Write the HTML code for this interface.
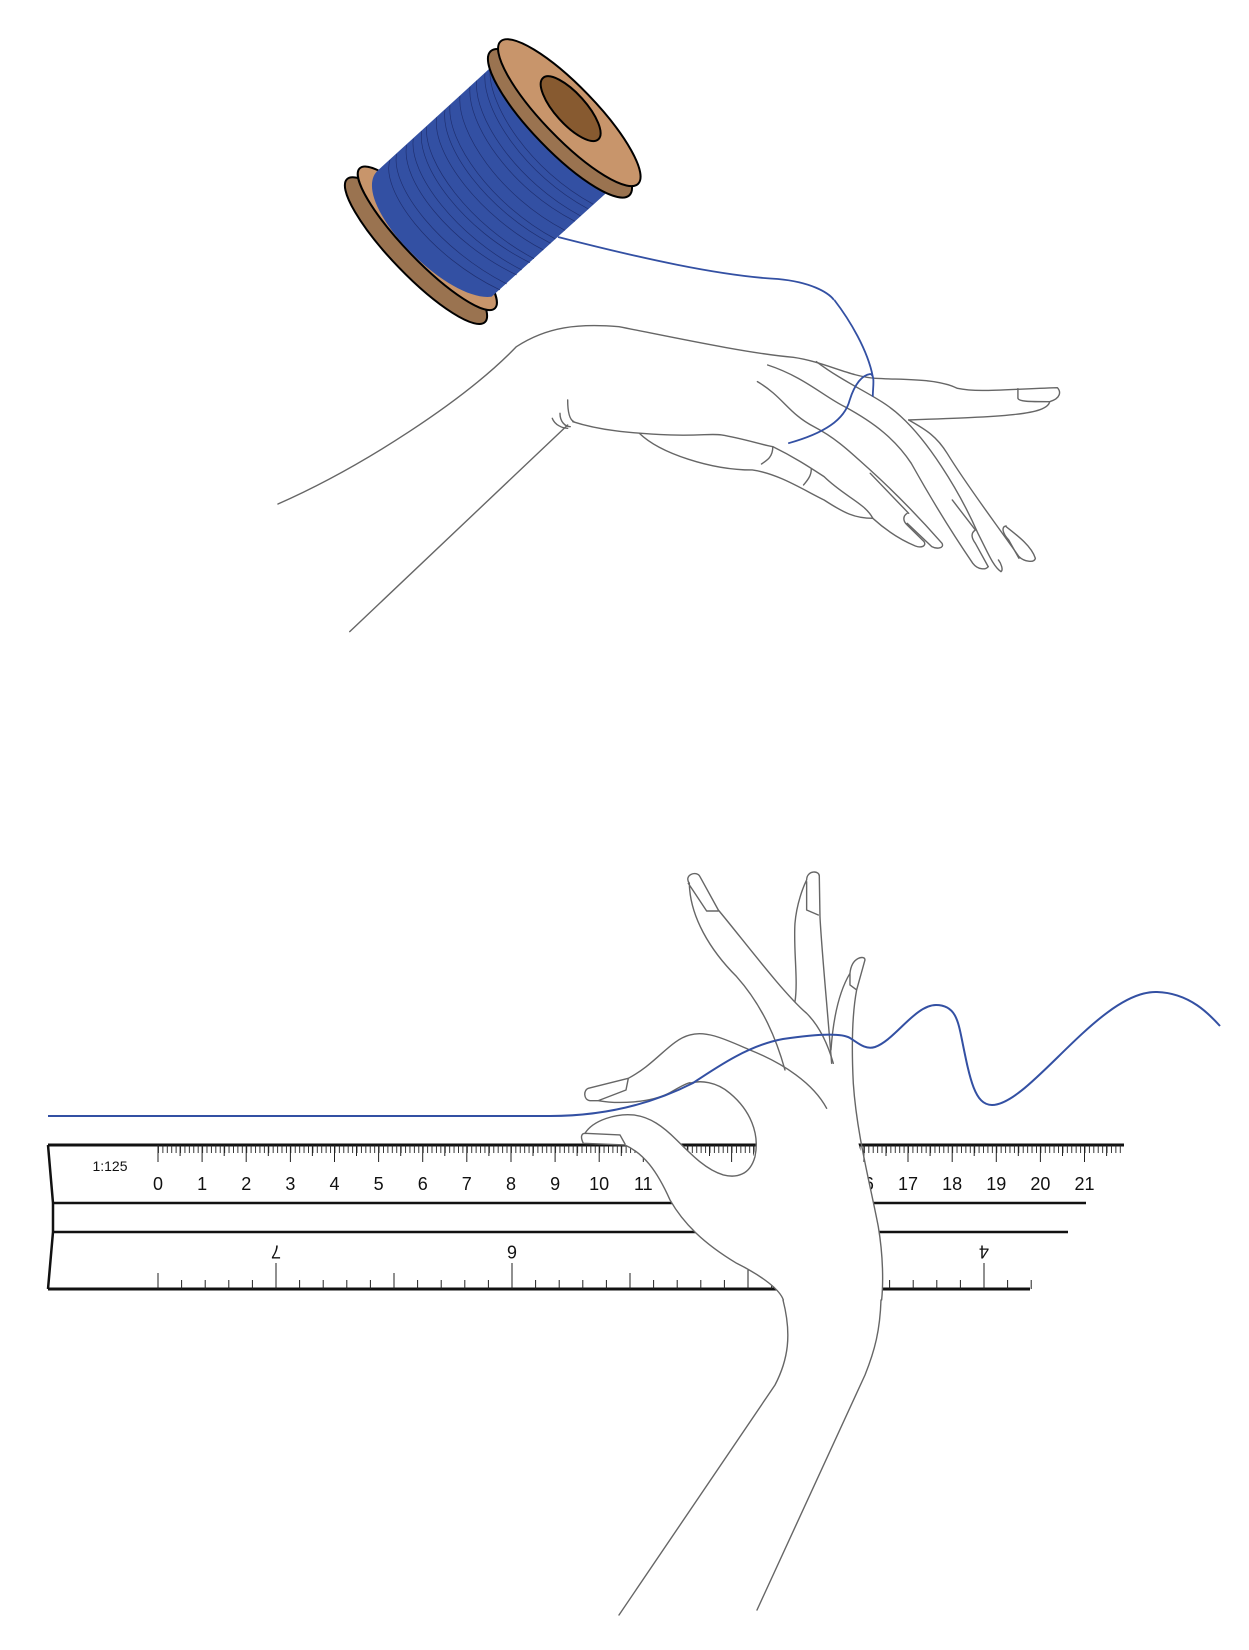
<!DOCTYPE html>
<html><head><meta charset="utf-8"><style>
html,body{margin:0;padding:0;background:#fff}
svg{display:block}
.h{fill:none;stroke:#666;stroke-width:1.4;vector-effect:non-scaling-stroke;stroke-linecap:round;stroke-linejoin:round}
.k{stroke:#000;stroke-width:2;vector-effect:non-scaling-stroke}
</style></head><body>
<svg width="1249" height="1650" viewBox="0 0 1249 1650" xmlns="http://www.w3.org/2000/svg">
<defs>
<pattern id="mt" x="158" y="0" width="4.412" height="1650" patternUnits="userSpaceOnUse">
<rect x="0" y="1145" width="0.9" height="8" fill="#222"/>
</pattern>
</defs>

<!-- SPOOL (zoom3 coords) -->
<g transform="translate(330,30) scale(0.3333)">
  <ellipse cx="258" cy="662" rx="298" ry="72" transform="rotate(46 258 662)" fill="#9a7350" class="k"/>
  <ellipse cx="292" cy="625" rx="292" ry="68" transform="rotate(46 292 625)" fill="#c8956b" class="k"/>
  <path d="M485,110 L145,420 C110,450 120,520 200,620 C300,740 420,810 485,800 L830,488 Z" fill="#3350a3"/>
  <g fill="none" stroke="#1f2f70" stroke-width="2" vector-effect="non-scaling-stroke">
    <path d="M180,390 C150,480 300,680 510,780"/>
    <path d="M200,372 C180,470 330,660 530,762"/>
    <path d="M230,345 C210,450 360,640 560,735"/>
    <path d="M250,326 C235,430 380,620 575,720"/>
    <path d="M275,303 C260,410 400,600 600,698"/>
    <path d="M290,290 C280,395 420,585 612,686"/>
    <path d="M320,262 C305,370 450,560 640,660"/>
    <path d="M345,240 C330,350 470,540 662,640"/>
    <path d="M360,226 C350,335 485,525 676,627"/>
    <path d="M390,198 C380,305 510,500 705,601"/>
    <path d="M420,170 C410,280 540,475 735,574"/>
    <path d="M440,152 C430,262 560,455 752,558"/>
    <path d="M465,130 C455,240 585,435 775,537"/>
    <path d="M480,118 C475,228 600,420 790,523"/>
  </g>
  <ellipse cx="690" cy="280" rx="300" ry="80" transform="rotate(46 690 280)" fill="#9a7350" class="k"/>
  <ellipse cx="718" cy="248" rx="297" ry="78" transform="rotate(46 718 248)" fill="#c8956b" class="k"/>
  <ellipse cx="722" cy="236" rx="124" ry="46" transform="rotate(48 722 236)" fill="#875a30" class="k"/>
</g>

<!-- TOP HAND (zoom4 coords) -->
<g transform="translate(260,300) scale(0.5128,0.3333)">
  <path class="h" d="M35,612 C200,500 400,300 500,140 C560,80 620,70 700,80 C800,110 950,160 1040,172 C1100,185 1150,230 1200,235 C1260,240 1320,235 1360,265 C1400,278 1450,268 1555,263 C1562,275 1562,295 1540,305 C1535,345 1450,350 1265,360"/>
  <path class="h" d="M1478,266 L1478,295 C1480,305 1500,305 1540,305"/>
  <path class="h" d="M175,995 L600,375"/>
  <path class="h" d="M600,300 C600,340 605,360 612,365 M585,340 C585,365 595,380 605,380 M570,355 C575,375 590,385 600,385"/>
  <path class="h" d="M610,365 C660,390 720,400 800,405 C860,408 880,400 900,405 C940,415 980,435 1000,440 C1040,470 1070,500 1100,530 C1140,590 1180,610 1195,655"/>
  <path class="h" d="M740,400 C780,460 880,510 960,510 C1010,520 1060,570 1100,600 C1140,640 1160,655 1195,655"/>
  <path class="h" d="M1000,440 C1000,470 990,480 978,492 M1075,508 C1075,530 1065,545 1060,555"/>
  <path class="h" d="M1195,655 C1220,690 1250,720 1278,738 C1290,745 1300,738 1295,725 M1262,640 C1252,650 1255,665 1262,675 L1295,725"/>
  <path class="h" d="M1085,185 C1150,260 1210,290 1250,350 C1300,420 1360,560 1400,700 C1420,760 1430,800 1445,815 C1450,810 1445,790 1440,780"/>
  <path class="h" d="M990,195 C1060,230 1100,290 1140,320 C1200,370 1240,420 1270,490 C1310,600 1350,700 1390,790 C1400,810 1415,810 1420,800"/>
  <path class="h" d="M970,245 C1020,290 1030,340 1080,380 C1130,420 1160,470 1190,510 C1240,580 1290,660 1330,730 C1335,745 1320,748 1310,740 L1262,670"/>
  <path class="h" d="M1265,360 C1300,390 1320,410 1340,460 C1380,560 1430,660 1480,770 C1490,785 1510,790 1512,775 C1505,740 1480,710 1455,680"/>
  <path class="h" d="M1455,678 C1445,680 1448,700 1460,720 L1480,775 M1395,690 C1385,700 1388,715 1395,730 L1420,800 M1350,600 L1395,690 M1190,520 L1265,640"/>
  <path d="M1030,430 C1100,400 1140,360 1150,300 C1160,250 1175,225 1190,222 C1200,225 1195,260 1195,290 M1195,230 C1185,150 1150,60 1120,0" fill="none" stroke="#3350a3" stroke-width="1.8" vector-effect="non-scaling-stroke"/>
</g>
<path d="M558,237 C640,258 720,276 778,279 C810,282 828,292 834,300" fill="none" stroke="#3350a3" stroke-width="1.8"/>

<!-- RULER -->
<g stroke="#111" fill="none">
  <path d="M48,1145 L1124,1145" stroke-width="3"/>
  <path d="M52,1203 L1086,1203" stroke-width="2.5"/>
  <path d="M53,1232 L1068,1232" stroke-width="2.5"/>
  <path d="M48,1289 L1030,1289" stroke-width="3"/>
  <path d="M48,1145 L53,1203 L53,1232 L48,1289" stroke-width="2.5"/>
</g>
<rect x="158" y="1145" width="964" height="9" fill="url(#mt)"/>
<path stroke="#222" stroke-width="1" d="M158,1145v17 M202.1,1145v17 M246.2,1145v17 M290.4,1145v17 M334.5,1145v17 M378.6,1145v17 M422.7,1145v17 M466.8,1145v17 M511,1145v17 M555.1,1145v17 M599.2,1145v17 M643.3,1145v17 M687.4,1145v17 M731.6,1145v17 M775.7,1145v17 M819.8,1145v17 M863.9,1145v17 M908,1145v17 M952.2,1145v17 M996.3,1145v17 M1040.4,1145v17 M1084.5,1145v17
M180.1,1145v11 M224.2,1145v11 M268.3,1145v11 M312.4,1145v11 M356.5,1145v11 M400.7,1145v11 M444.8,1145v11 M488.9,1145v11 M533,1145v11 M577.1,1145v11 M621.3,1145v11 M665.4,1145v11 M709.5,1145v11 M753.6,1145v11 M797.7,1145v11 M841.9,1145v11 M886,1145v11 M930.1,1145v11 M974.2,1145v11 M1018.3,1145v11 M1062.5,1145v11 M1106.6,1145v11"/>
<g font-family="'Liberation Sans', sans-serif" font-size="18" fill="#111" text-anchor="middle">
<text x="158" y="1190">0</text><text x="202.1" y="1190">1</text><text x="246.2" y="1190">2</text><text x="290.4" y="1190">3</text><text x="334.5" y="1190">4</text><text x="378.6" y="1190">5</text><text x="422.7" y="1190">6</text><text x="466.8" y="1190">7</text><text x="511" y="1190">8</text><text x="555.1" y="1190">9</text><text x="599.2" y="1190">10</text><text x="643.3" y="1190">11</text><text x="687.4" y="1190">12</text><text x="731.6" y="1190">13</text><text x="775.7" y="1190">14</text><text x="819.8" y="1190">15</text><text x="863.9" y="1190">16</text><text x="908" y="1190">17</text><text x="952.2" y="1190">18</text><text x="996.3" y="1190">19</text><text x="1040.4" y="1190">20</text><text x="1084.5" y="1190">21</text>
<text x="110" y="1171" font-size="14">1:125</text>
<text x="276" y="1250" transform="rotate(180 276 1250)" dominant-baseline="middle">7</text>
<text x="512" y="1250" transform="rotate(180 512 1250)" dominant-baseline="middle">6</text>
<text x="984" y="1250" transform="rotate(180 984 1250)" dominant-baseline="middle">4</text>
</g>
<path stroke="#222" stroke-width="1" d="M158,1289v-16 M181.6,1289v-9 M205.2,1289v-9 M228.8,1289v-9 M252.4,1289v-9 M276,1289v-26 M299.6,1289v-9 M323.2,1289v-9 M346.8,1289v-9 M370.4,1289v-9 M394,1289v-16 M417.6,1289v-9 M441.2,1289v-9 M464.8,1289v-9 M488.4,1289v-9 M512,1289v-26 M535.6,1289v-9 M559.2,1289v-9 M582.8,1289v-9 M606.4,1289v-9 M630,1289v-16 M653.6,1289v-9 M677.2,1289v-9 M700.8,1289v-9 M724.4,1289v-9 M748,1289v-26 M771.6,1289v-9 M795.2,1289v-9 M818.8,1289v-9 M842.4,1289v-9 M866,1289v-16 M889.6,1289v-9 M913.2,1289v-9 M936.8,1289v-9 M960.4,1289v-9 M984,1289v-26 M1007.6,1289v-9 M1031.2,1289v-9"/>

<!-- BOTTOM HAND (zoom2 coords) -->
<g transform="translate(550,850) scale(0.3333)">
  <path fill="#fff" d="M100,880 L225,885 C280,910 320,960 360,1050 C400,1120 460,1180 560,1240 C640,1280 690,1320 700,1350 L995,1350 C1000,1300 1000,1220 985,1130 C960,1000 930,900 920,860 L620,860 C615,920 600,985 520,975 C470,960 430,920 380,870 C340,830 300,800 250,795 C200,790 130,810 105,850 Z"/>
  <path class="h" d="M418,100 C400,75 440,60 450,80 L505,180 C580,270 700,430 770,490 C800,520 830,570 850,640"/>
  <path class="h" d="M418,100 C420,200 480,300 560,380 C640,470 680,570 705,660 M415,100 L470,183 L505,183"/>
  <path class="h" d="M735,455 C745,390 730,300 735,220 C740,160 760,110 770,90 C770,60 810,60 808,80 L810,200 C815,300 830,450 845,640 M770,95 L770,180 L805,195"/>
  <path class="h" d="M843,600 C850,500 870,420 900,370 C905,320 945,315 945,330 L920,420 C905,500 905,600 910,700 C920,850 960,1000 985,1130 C1000,1220 1000,1300 995,1350 M900,370 L900,405 L920,420"/>
  <path class="h" d="M830,775 C790,700 700,640 600,600 C530,570 470,540 420,555 C360,570 320,640 235,685 L115,715 C100,720 100,750 120,752 L145,752 C200,762 300,760 360,728 C390,710 410,700 420,698 M235,685 L228,720 L145,752"/>
  <path class="h" d="M105,850 C130,810 200,790 250,795 C300,800 340,830 380,870 C430,920 470,960 520,975 C560,985 600,975 615,920 C630,850 600,780 540,730 C500,695 450,690 420,700"/>
  <path class="h" d="M100,880 C90,860 95,850 105,850 L210,855 L225,882 M100,880 L225,885 C280,910 320,960 360,1050 C400,1120 460,1180 560,1240 C640,1280 690,1320 700,1350"/>
</g>
<path class="h" d="M783,1300 C792,1335 788,1360 775,1385 L619,1615 M881,1300 C880,1330 875,1350 865,1375 L757,1610"/>

<path d="M48,1116 L550,1116 C590,1116 640,1110 693,1083 C720,1065 750,1045 783,1039 C810,1035 840,1032 850,1038 C858,1043 865,1050 875,1047 C895,1040 915,1005 936,1005 C955,1005 958,1020 962,1040 C970,1080 975,1105 992,1105 C1030,1105 1100,990 1157,992 C1190,993 1210,1015 1220,1026" fill="none" stroke="#3350a3" stroke-width="2"/>
</svg>
</body></html>
